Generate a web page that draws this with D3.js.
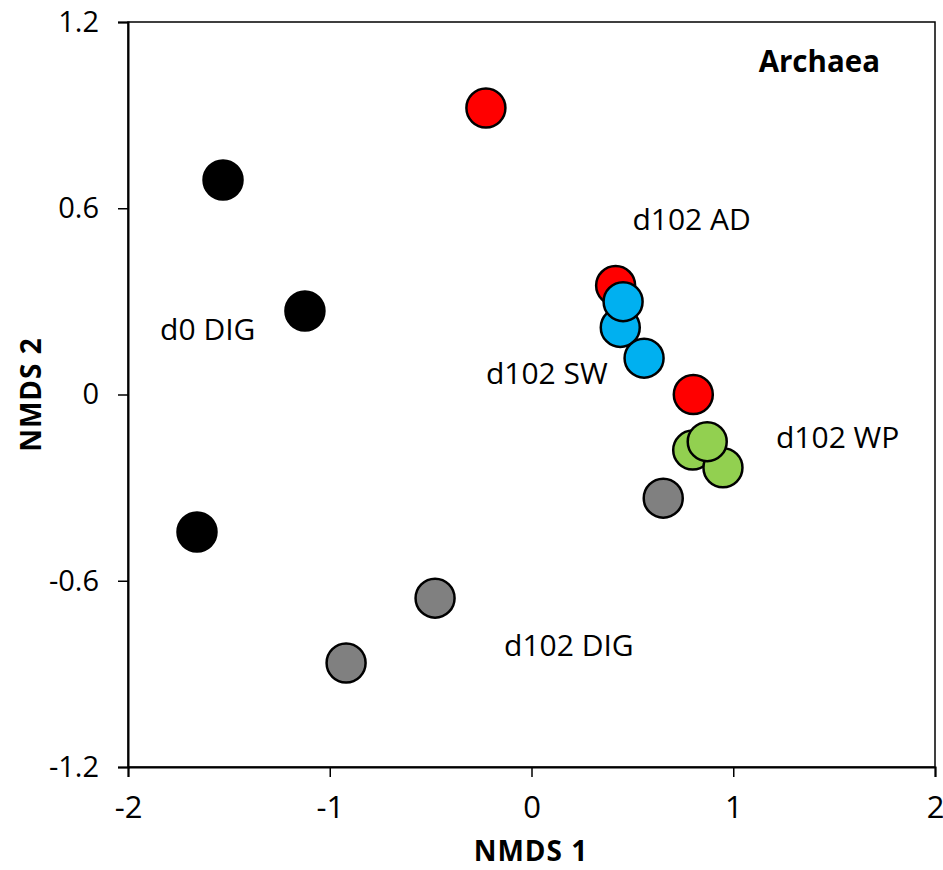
<!DOCTYPE html>
<html>
<head>
<meta charset="utf-8">
<script src="https://cdn.jsdelivr.net/npm/d3@7"></script>
<style>
  body { margin: 0; background: #fff; }
  svg text { font-family: "Open Sans", "Noto Sans", sans-serif; fill: #000; }
</style>
</head>
<body>
<svg id="chart" width="943" height="870"></svg>
<script>
// groups in drawing order (later ones sit on top)
const groups = ['d0 DIG', 'd102 DIG', 'd102 AD', 'd102 SW', 'd102 WP'];
const groupColors = ['#000000', '#808080', '#FF0000', '#00B0F0', '#92D050'];

const pointGroup = ['d0 DIG', 'd0 DIG', 'd0 DIG',
    'd102 DIG', 'd102 DIG', 'd102 DIG',
    'd102 AD', 'd102 AD', 'd102 AD',
    'd102 SW', 'd102 SW', 'd102 SW',
    'd102 WP', 'd102 WP', 'd102 WP'];
const nmds1 = [-1.529, -1.123, -1.658,
    0.653, -0.478, -0.919,
    -0.226, 0.417, 0.802,
    0.440, 0.454, 0.558,
    0.799, 0.949, 0.871];
const nmds2 = [0.691, 0.269, -0.443,
    -0.334, -0.656, -0.865,
    0.923, 0.351, 0.000,
    0.216, 0.299, 0.117,
    -0.179, -0.236, -0.152];

const xTicks = [-2, -1, 0, 1, 2];
const yTicks = [-1.2, -0.6, 0, 0.6, 1.2];

// group labels placed next to their clusters (data coords of text start)
const labelText = ['d0 DIG', 'd102 AD', 'd102 SW', 'd102 WP', 'd102 DIG'];
const labelX = [-1.841, 0.50, -0.226, 1.212, -0.136];
const labelY = [0.174, 0.529, 0.035, -0.171, -0.842];

const title = 'Archaea';

const svg = d3.select('#chart');
const margin = {left: 128, top: 22, right: 8, bottom: 103};
const widthSVG = 943, heightSVG = 870;
const w = widthSVG - margin.left - margin.right;
const h = heightSVG - margin.top - margin.bottom;

const x = d3.scaleLinear().domain([-2, 2]).range([0, w]);
const y = d3.scaleLinear().domain([-1.2, 1.2]).range([h, 0]);
const color = d3.scaleOrdinal().domain(groups).range(groupColors);

const g = svg.append('g').attr('transform', `translate(${margin.left},${margin.top})`);

// frame
g.append('rect')
    .attr('x', 0).attr('y', 0)
    .attr('width', w).attr('height', h)
    .attr('fill', 'none')
    .attr('stroke', '#000')
    .attr('stroke-width', 1.5);

const fmt = d => d === 0 ? '0' : String(d);

const xAxis = g.append('g')
    .attr('transform', `translate(0,${h})`)
    .call(d3.axisBottom(x).tickValues(xTicks).tickFormat(fmt).tickSizeOuter(0).tickSize(10).tickPadding(19));
const yAxis = g.append('g')
    .call(d3.axisLeft(y).tickValues(yTicks).tickFormat(fmt).tickSizeOuter(0).tickSize(10).tickPadding(19));

[xAxis, yAxis].forEach(a => {
    a.select('.domain').attr('stroke-width', 2);
    a.selectAll('.tick line').attr('stroke-width', 1.5);
    a.selectAll('.tick text').style('font-family', '"Open Sans", sans-serif');
});
xAxis.selectAll('.tick text').style('font-size', '31px');
yAxis.selectAll('.tick text').style('font-size', '29px');

// points
const points = nmds1.map((d, i) => ({x: d, y: nmds2[i], group: pointGroup[i]}));
const order = groups.flatMap(gr => points.filter(p => p.group === gr));

g.append('g').selectAll('circle')
    .data(order)
    .join('circle')
    .attr('cx', d => x(d.x))
    .attr('cy', d => y(d.y))
    .attr('r', 19.5)
    .attr('fill', d => color(d.group))
    .attr('stroke', '#000')
    .attr('stroke-width', 2.5);

// labels
g.append('g').selectAll('text')
    .data(labelText)
    .join('text')
    .attr('x', (d, i) => x(labelX[i]))
    .attr('y', (d, i) => y(labelY[i]))
    .style('font-size', '30px')
    .text(d => d);

g.append('text')
    .attr('x', w - 55)
    .attr('y', 50)
    .attr('text-anchor', 'end')
    .style('font-size', '29.5px')
    .style('font-weight', 'bold')
    .text(title);

// axis titles
svg.append('text')
    .attr('x', 531)
    .attr('y', 861)
    .attr('text-anchor', 'middle')
    .style('font-size', '28px')
    .style('font-weight', 'bold')
    .style('letter-spacing', '1px')
    .text('NMDS 1');

svg.append('text')
    .attr('transform', `translate(41,${margin.top + h / 2}) rotate(-90)`)
    .attr('text-anchor', 'middle')
    .style('font-size', '28px')
    .style('font-weight', 'bold')
    .style('letter-spacing', '1px')
    .text('NMDS 2');
</script>
</body>
</html>
